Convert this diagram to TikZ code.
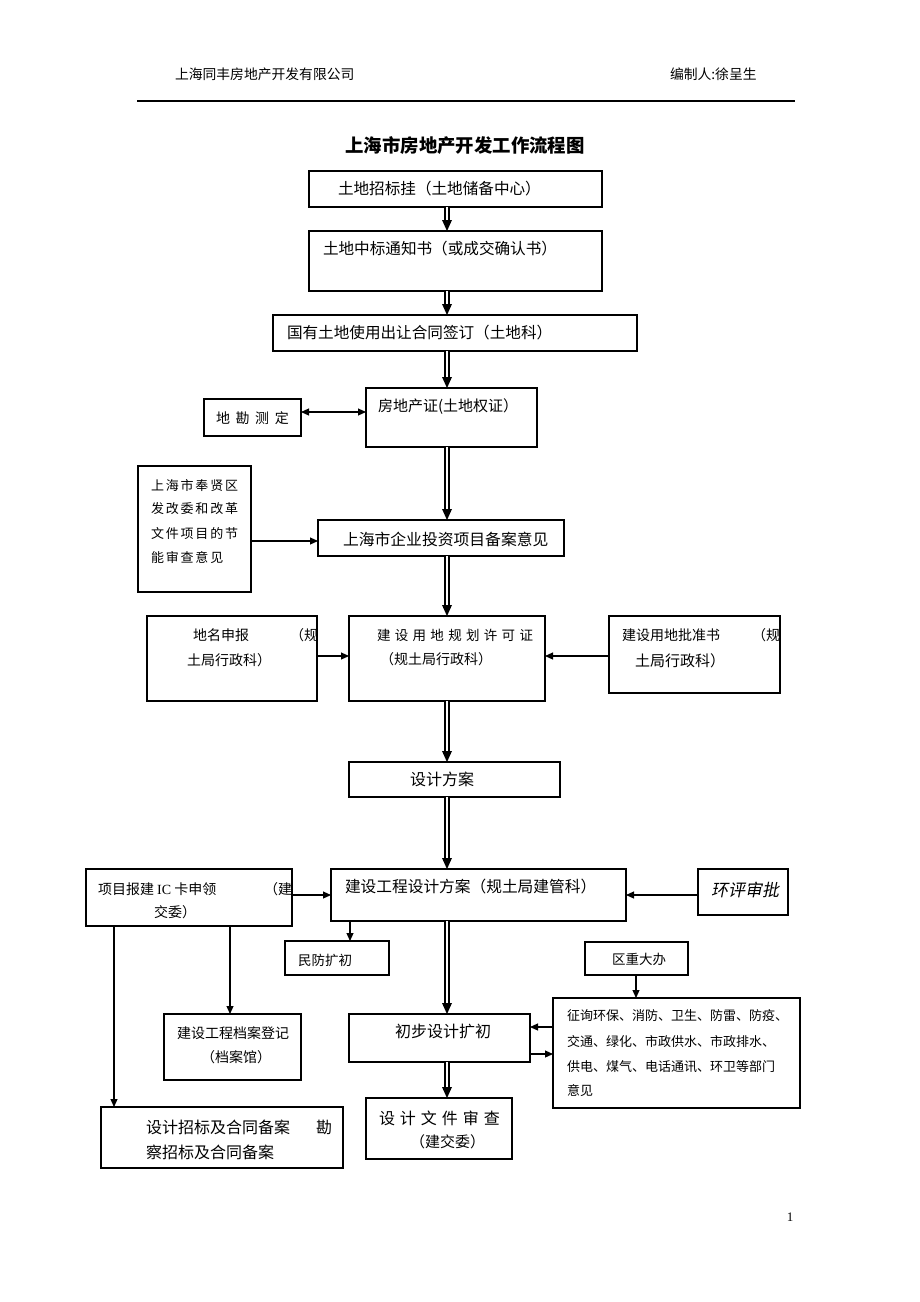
\documentclass[tikz,border=0pt]{standalone}
\usepackage{fontspec}
\setmainfont{Liberation Serif}
\newfontfamily\cjk{Noto Sans CJK SC}
\newfontfamily\cjkit[FakeSlant=0.2]{Noto Sans CJK SC}
\usetikzlibrary{arrows.meta}
\tikzset{
  box/.style={draw, line width=1.2pt, inner sep=0pt, outer sep=0pt},
  txt/.style={inner sep=0pt, outer sep=0pt, anchor=west, font=\cjk\fontsize{#1}{#1}\selectfont},
  stxt/.style 2 args={inner sep=0pt, outer sep=0pt, anchor=west, font=\cjk\fontsize{#1}{#1}\selectfont\addfontfeature{LetterSpace=#2}},
  arr/.style={line width=1.1pt, -{Triangle[length=8pt,width=7pt]}},
  darr/.style={line width=1.1pt, {Triangle[length=8pt,width=7pt]}-{Triangle[length=8pt,width=7pt]}},
  dblline/.style={draw, line width=1.8pt, double=white, double distance=2.4pt, shorten >=8pt},
}
\newcommand\mybox[5]{\node[box, minimum width={(#4)-(#2)}, minimum height={(#5)-(#3)}] (#1) at ({((#2)+(#4))/2},{((#3)+(#5))/2}) {};}
\newcommand\dblarrow[2]{\draw[dblline] (#1.south -| sp) -- (#2.north -| sp);
  \fill (#2.north -| sp) -- ++(-5,-11) -- ++(10,0) -- cycle;}
\begin{document}
\begin{tikzpicture}[x=1pt,y=-1pt]
\useasboundingbox[fill=white] (0,0) rectangle (920,1302);
% header
\node[txt=13.8] (h1) at (175,74) {上海同丰房地产开发有限公司};
\node[txt=13.8] (h2) at (670,74) {编制人:徐呈生};
\coordinate (hl) at (137,101);
\coordinate (hr) at (795,101);
\draw[line width=1.5pt] (hl) -- (hr);
\node[inner sep=0pt, font=\cjk\bfseries\fontsize{18.4}{18.4}\selectfont] (title) at (465,146) {上海市房地产开发工作流程图};
% boxes
\mybox{b1}{309}{171}{602}{207}
\mybox{b2}{309}{231}{602}{291}
\mybox{b3}{273}{315}{637}{351}
\mybox{b4}{366}{388}{537}{447}
\mybox{bdk}{204}{399}{301}{436}
\mybox{bfx}{138}{466}{251}{592}
\mybox{bba}{318}{520}{564}{556}
\mybox{bdm}{147}{616}{317}{701}
\mybox{bxk}{349}{616}{545}{701}
\mybox{bpz}{609}{616}{780}{693}
\mybox{bfa}{349}{762}{560}{797}
\mybox{bic}{86}{869}{292}{926}
\mybox{bgc}{331}{869}{626}{921}
\mybox{bhp}{698}{869}{788}{915}
\mybox{bmf}{285}{941}{389}{975}
\mybox{bqz}{585}{942}{688}{975}
\mybox{bzx}{553}{998}{800}{1108}
\mybox{bcb}{349}{1014}{530}{1062}
\mybox{bda}{164}{1014}{301}{1080}
\mybox{bsj}{366}{1098}{512}{1159}
\mybox{bzb}{101}{1107}{343}{1168}
% texts
\node[txt=15.6] (t1) at (338,189) {土地招标挂（土地储备中心）};
\node[txt=15.6] (t2) at (323,249) {土地中标通知书（或成交确认书）};
\node[txt=15.6] (t3) at (287,333) {国有土地使用出让合同签订（土地科）};
\node[txt=15] (t4) at (378,407) {房地产证(土地权证）};
\node[stxt={14}{40}] (tdk) at (216,418) {地勘测定};
\node[stxt={13}{14}] (tfx1) at (151,485) {上海市奉贤区};
\node[stxt={13}{14}] (tfx2) at (151,509) {发改委和改革};
\node[stxt={13}{14}] (tfx3) at (151,534) {文件项目的节};
\node[stxt={13}{14}] (tfx4) at (151,557) {能审查意见};
\node[txt=15.8] (tba) at (343,539) {上海市企业投资项目备案意见};
\node[txt=14] (tdm1) at (193,635) {地名申报};
\node[txt=14] (tdm2) at (290,635) {（规};
\node[txt=14] (tdm3) at (187,660) {土局行政科）};
\node[stxt={13.5}{32}] (txk1) at (377,635) {建设用地规划许可证};
\node[txt=14] (txk2) at (380,659) {（规土局行政科）};
\node[txt=14] (tpz1) at (622,635) {建设用地批准书};
\node[txt=14] (tpz2) at (752,635) {（规};
\node[txt=15] (tpz3) at (635,661) {土局行政科）};
\node[txt=16] (tfa) at (410,779) {设计方案};
\node[txt=14] (tic1) at (98,889) {项目报建 \rmfamily IC\cjk{} 卡申领};
\node[txt=14] (tic2) at (264,889) {（建};
\node[txt=14] (tic3) at (154,912) {交委）};
\node[txt=15.7] (tgc) at (345,887) {建设工程设计方案（规土局建管科）};
\node[inner sep=0pt, anchor=west, font=\cjkit\fontsize{17}{17}\selectfont] (thp) at (711,890) {环评审批};
\node[txt=13.5] (tmf) at (298,960) {民防扩初};
\node[txt=13.5] (tqz) at (612,959) {区重大办};
\node[txt=13] (tzx1) at (567,1016) {征询环保、消防、卫生、防雷、防疫、};
\node[txt=13] (tzx2) at (567,1042) {交通、绿化、市政供水、市政排水、};
\node[txt=13] (tzx3) at (567,1067) {供电、煤气、电话通讯、环卫等部门};
\node[txt=13] (tzx4) at (567,1090) {意见};
\node[txt=16] (tcb) at (395,1031) {初步设计扩初};
\node[stxt={16}{31}] (tsj1) at (379,1118) {设计文件审查};
\node[txt=15] (tsj2) at (410,1142) {（建交委）};
\node[txt=14] (tda1) at (177,1033) {建设工程档案登记};
\node[txt=14] (tda2) at (201,1057) {（档案馆）};
\node[txt=16] (tzb1) at (146,1127) {设计招标及合同备案};
\node[txt=16] (tzb2) at (316,1127) {勘};
\node[txt=16] (tzb3) at (146,1152) {察招标及合同备案};
\node[inner sep=0pt, font=\fontsize{13}{13}\selectfont] (pg) at (790,1217) {1};
% double arrows
\coordinate (sp) at (447,0);
\dblarrow{b1}{b2}
\dblarrow{b2}{b3}
\dblarrow{b3}{b4}
\dblarrow{b4}{bba}
\dblarrow{bba}{bxk}
\dblarrow{bxk}{bfa}
\dblarrow{bfa}{bgc}
\dblarrow{bgc}{bcb}
\dblarrow{bcb}{bsj}
% single arrows
\coordinate (ydk) at (0,412);
\coordinate (yfx) at (0,541);
\coordinate (ydm) at (0,656);
\coordinate (yic) at (0,895);
\coordinate (yz1) at (0,1027);
\coordinate (yz2) at (0,1054);
\coordinate (xmf) at (350,0);
\coordinate (xqz) at (636,0);
\coordinate (xda) at (230,0);
\coordinate (xzb) at (114,0);
\draw[darr] (bdk.east |- ydk) -- (b4.west |- ydk);
\draw[arr] (bfx.east |- yfx) -- (bba.west |- yfx);
\draw[arr] (bdm.east |- ydm) -- (bxk.west |- ydm);
\draw[arr] (bpz.west |- ydm) -- (bxk.east |- ydm);
\draw[arr] (bic.east |- yic) -- (bgc.west |- yic);
\draw[arr] (bhp.west |- yic) -- (bgc.east |- yic);
\draw[arr] (bgc.south -| xmf) -- (bmf.north -| xmf);
\draw[arr] (bqz.south -| xqz) -- (bzx.north -| xqz);
\draw[arr] (bzx.west |- yz1) -- (bcb.east |- yz1);
\draw[arr] (bcb.east |- yz2) -- (bzx.west |- yz2);
\draw[arr] (bic.south -| xda) -- (bda.north -| xda);
\draw[arr] (bic.south -| xzb) -- (bzb.north -| xzb);
\end{tikzpicture}
\end{document}
